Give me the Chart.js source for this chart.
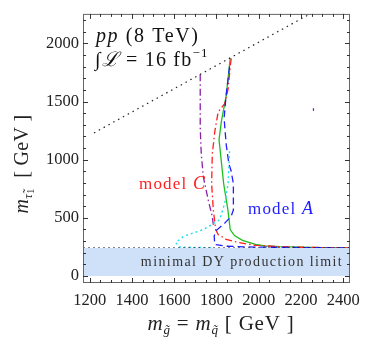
<!DOCTYPE html>
<html>
<head>
<meta charset="utf-8">
<script src="https://cdn.jsdelivr.net/npm/chart.js@4"></script>
<style>
  html, body { margin: 0; padding: 0; background: #fff; }
  #c { display: block; }
</style>
</head>
<body>
<canvas id="c" width="368" height="338"></canvas>
<script>
// exclusion contours (GeV)
const greenX = [1865, 1858, 1846, 1823, 1812, 1834, 1854, 1865, 1885, 1923, 1985, 2031, 2100, 2200, 2300, 2432];
const greenY = [1872, 1750, 1551, 1327, 1172, 793, 568, 399, 348, 306, 272, 258, 252, 248, 244, 241];

const redX = [1870, 1866, 1855, 1839, 1808, 1792, 1780, 1777, 1785, 1796, 1808, 1846, 1907, 1985, 2100, 2250, 2432];
const redY = [1870, 1818, 1608, 1481, 1411, 1242, 1046, 793, 568, 399, 357, 315, 287, 264, 252, 246, 241];

const blueX = [1862, 1846, 1836, 1846, 1859, 1869, 1880, 1880, 1869, 1839, 1800, 1789, 1792, 1846, 1950, 2100, 2432];
const blueY = [1800, 1560, 1357, 1130, 961, 905, 793, 568, 512, 455, 393, 343, 272, 256, 250, 246, 241];

const cyanX = [1862, 1855, 1839, 1815, 1738, 1646, 1607, 1623, 1708, 1785];
const cyanY = [1073, 793, 624, 483, 399, 343, 287, 250, 245, 243];

const purpleX = [1723, 1723, 1728, 1738, 1761, 1780, 1785];
const purpleY = [1734, 1271, 1046, 849, 652, 512, 441];
const purpleDotX = [2257, 2259];
const purpleDotY = [1425, 1442];

const diagX = [1220, 2280];
const diagY = [1230, 2290];

const dyLimit = 240;
const bandX = [1168, 2432];

const xTickVals = [1200, 1400, 1600, 1800, 2000, 2200, 2400];
const yTickVals = [0, 500, 1000, 1500, 2000];

const serif = '"Liberation Serif", "DejaVu Serif", serif';

function pts(xs, ys) { return xs.map((x, i) => ({ x: x, y: ys[i] })); }

function line(label, xs, ys, color, dash, width) {
  return {
    label: label, data: pts(xs, ys), showLine: true, borderColor: color,
    borderWidth: width || 1.3, borderDash: dash, pointRadius: 0, fill: false, tension: 0
  };
}

function drawRuns(ctx, runs, x, y, align, spacing) {
  ctx.letterSpacing = (spacing || 0) + 'px';
  let total = 0;
  runs.forEach(r => { ctx.font = r.font; total += ctx.measureText(r.t).width; });
  let cx = align === 'center' ? x - total / 2 : x;
  ctx.textAlign = 'left';
  runs.forEach(r => {
    ctx.font = r.font;
    ctx.fillStyle = r.color || ctx.fillStyle;
    ctx.fillText(r.t, cx, y + (r.dy || 0));
    cx += ctx.measureText(r.t).width;
  });
  ctx.letterSpacing = '0px';
}

const framePlugin = {
  id: 'frame',
  afterDatasetsDraw(chart) {
    const ctx = chart.ctx, a = chart.chartArea;
    const xs = chart.scales.x, ys = chart.scales.y;
    ctx.save();
    ctx.textBaseline = 'alphabetic';
    // annotations
    ctx.fillStyle = '#111';
    drawRuns(ctx, [
      { t: 'pp ', font: 'italic 20px ' + serif },
      { t: '(8 TeV)', font: '20px ' + serif }
    ], 96, 42, 'left', 1.6);
    drawRuns(ctx, [
      { t: '\u222B', font: '20px ' + serif },
      { t: '\u2112', font: 'italic 20px ' + serif },
      { t: ' = 16 fb', font: '20px ' + serif },
      { t: '\u22121', font: '13px ' + serif, dy: -9 }
    ], 95, 66, 'left', 1.2);
    drawRuns(ctx, [
      { t: 'model ', font: '17px ' + serif, color: '#ff1f1f' },
      { t: 'C', font: 'italic 18px ' + serif, color: '#ff1f1f' }
    ], 139, 189, 'left', 1.2);
    drawRuns(ctx, [
      { t: 'model ', font: '17px ' + serif, color: '#1f1fff' },
      { t: 'A', font: 'italic 18px ' + serif, color: '#1f1fff' }
    ], 248, 214, 'left', 1.2);
    ctx.fillStyle = '#333';
    ctx.font = '14px ' + serif;
    ctx.letterSpacing = '1.4px';
    ctx.textAlign = 'center';
    ctx.fillText('minimal DY production limit', 242, 266);
    ctx.letterSpacing = '0px';

    // frame with inward ticks
    ctx.strokeStyle = '#666';
    ctx.lineWidth = 1;
    ctx.strokeRect(a.left + 0.5, a.top + 0.5, a.right - a.left - 1, a.bottom - a.top - 1);
    ctx.strokeStyle = '#333';
    ctx.beginPath();
    for (let v = 1200; v <= 2400; v += 50) {
      const p = Math.round(xs.getPixelForValue(v)) + 0.5;
      const len = v % 200 === 0 ? 5 : 3;
      ctx.moveTo(p, a.bottom); ctx.lineTo(p, a.bottom - len);
      ctx.moveTo(p, a.top); ctx.lineTo(p, a.top + len);
    }
    for (let v = 0; v <= 2200; v += 100) {
      const p = Math.round(ys.getPixelForValue(v)) + 0.5;
      const len = v % 500 === 0 ? 5 : 3;
      ctx.moveTo(a.left, p); ctx.lineTo(a.left + len, p);
      ctx.moveTo(a.right, p); ctx.lineTo(a.right - len, p);
    }
    ctx.stroke();

    // axis titles
    ctx.fillStyle = '#222';
    drawRuns(ctx, [
      { t: 'm', font: 'italic 21px ' + serif },
      { t: 'g\u0303', font: 'italic 13px ' + serif, dy: 4 },
      { t: ' = ', font: '21px ' + serif },
      { t: 'm', font: 'italic 21px ' + serif },
      { t: 'q\u0303', font: 'italic 13px ' + serif, dy: 4 },
      { t: ' [ GeV ]', font: '21px ' + serif }
    ], 221, 330, 'center', 0.8);
    ctx.translate(28, 164);
    ctx.rotate(-Math.PI / 2);
    drawRuns(ctx, [
      { t: 'm', font: 'italic 20px ' + serif },
      { t: '\u03C4\u0303', font: 'italic 13px ' + serif, dy: 4 },
      { t: '1', font: '10px ' + serif, dy: 6 },
      { t: '  [ GeV ]', font: '20px ' + serif }
    ], 0, 0, 'center', 0.3);
    ctx.restore();
  }
};

new Chart(document.getElementById('c'), {
  type: 'scatter',
  data: {
    datasets: [
      {
        label: 'band', data: pts(bandX, [dyLimit, dyLimit]), showLine: true,
        borderWidth: 0, borderColor: 'rgba(0,0,0,0)', backgroundColor: '#cfe1f8',
        fill: 'origin', pointRadius: 0
      },
      line('DY limit', bandX, [dyLimit, dyLimit], '#111', [2, 3], 1.2),
      line('diag', diagX, diagY, '#222', [1.5, 4], 1.2),
      line('cyan', cyanX, cyanY, '#22dcef', [2, 3], 1.4),
      line('purple', purpleX, purpleY, '#8a1fa8', [7, 3, 1.5, 3], 1.3),
      line('purpleDot', purpleDotX, purpleDotY, '#8a1fa8', [], 1.3),
      line('blue', blueX, blueY, '#1f1fff', [7, 4], 1.3),
      line('red', redX, redY, '#ff1f1f', [7, 3, 1.5, 3], 1.3),
      line('green', greenX, greenY, '#1fbf1f', [], 1.3)
    ]
  },
  options: {
    responsive: false,
    animation: false,
    devicePixelRatio: 1,
    layout: { padding: { top: 7, right: 11, left: 0, bottom: 0 } },
    plugins: { legend: { display: false }, tooltip: { enabled: false } },
    scales: {
      x: {
        type: 'linear', min: 1168, max: 2432,
        grid: { display: false, drawTicks: false }, border: { display: false },
        afterBuildTicks(s) { s.ticks = xTickVals.map(v => ({ value: v })); },
        afterFit(s) { s.height = 55; },
        ticks: {
          padding: 8, maxRotation: 0, autoSkip: false, color: '#222',
          font: { family: serif, size: 16.5 }, callback: v => String(v)
        }
      },
      y: {
        type: 'linear', min: -60, max: 2253,
        grid: { display: false, drawTicks: false }, border: { display: false },
        afterBuildTicks(s) { s.ticks = yTickVals.map(v => ({ value: v })); },
        afterFit(s) { s.width = 83; },
        ticks: {
          padding: 4, autoSkip: false, color: '#222',
          font: { family: serif, size: 16.5 }, callback: v => String(v)
        }
      }
    }
  },
  plugins: [framePlugin]
});
</script>
</body>
</html>
